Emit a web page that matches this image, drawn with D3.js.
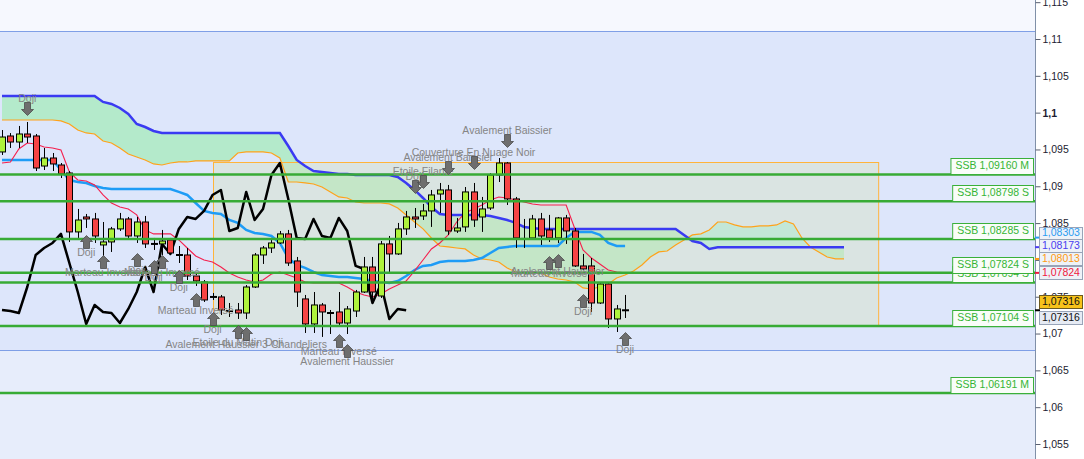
<!DOCTYPE html>
<html>
<head>
<meta charset="utf-8">
<script src="https://cdn.jsdelivr.net/npm/d3@7"></script>
<style>
  body { margin: 0; background: #fff; overflow: hidden; }
  text { font-family: "Liberation Sans", Arial, sans-serif; }
</style>
</head>
<body>
<script>
// bougies (prix EUR/USD)
const opens = [1.09466,1.09683,1.09601,1.09710,1.09683,1.09275,1.09384,1.09289,1.09180,1.08380,
  1.08583,1.08556,1.08203,1.08244,1.08421,1.08556,1.08325,1.08515,1.08217,1.08217,
  1.08271,1.08067,1.08067,1.07782,1.07700,1.07497,1.07497,1.07306,1.07320,1.07279,
  1.07632,1.08067,1.08162,1.08230,1.08353,1.07986,1.07470,1.07130,1.07388,1.07279,
  1.07293,1.07143,1.07306,1.07564,1.07904,1.07510,1.08217,1.08081,1.08421,1.08583,
  1.08597,1.08665,1.08895,1.08950,1.08393,1.08448,1.08923,1.08583,1.08705,1.09153,
  1.09316,1.08828,1.08285,1.08298,1.08556,1.08407,1.08298,1.08570,1.08393,1.07918,
  1.07918,1.07415,1.07673,1.07198,1.07316];
const highs = [1.09764,1.09723,1.09819,1.09873,1.09710,1.09520,1.09452,1.09316,1.09207,1.08692,
  1.08624,1.08638,1.08515,1.08448,1.08638,1.08583,1.08583,1.08597,1.08298,1.08407,
  1.08298,1.08189,1.08162,1.07822,1.07727,1.07551,1.07524,1.07415,1.07415,1.07659,
  1.08094,1.08189,1.08298,1.08393,1.08407,1.08040,1.07524,1.07564,1.07415,1.07320,
  1.07564,1.07374,1.07592,1.08040,1.08040,1.08257,1.08325,1.08502,1.08665,1.08705,
  1.08760,1.08950,1.09045,1.09018,1.08570,1.08990,1.09045,1.08855,1.09180,1.09384,
  1.09330,1.08855,1.08556,1.08611,1.08638,1.08611,1.08583,1.08611,1.08434,1.08081,
  1.08026,1.07687,1.07687,1.07388,1.07524];
const lows = [1.09425,1.09520,1.09520,1.09588,1.09207,1.09221,1.09207,1.09112,1.08244,1.08298,
  1.08434,1.08230,1.08040,1.08108,1.08393,1.08298,1.08230,1.08162,1.08135,1.08067,
  1.08067,1.07958,1.07727,1.07646,1.07429,1.07456,1.07252,1.07225,1.07198,1.07198,
  1.07619,1.07945,1.08094,1.08217,1.07918,1.07361,1.07008,1.07008,1.06954,1.06994,
  1.07116,1.06994,1.07225,1.07551,1.07415,1.07483,1.07836,1.08067,1.08339,1.08434,
  1.08542,1.08448,1.08638,1.08339,1.08366,1.08380,1.08448,1.08380,1.08678,1.09058,
  1.08746,1.08162,1.08162,1.08271,1.08203,1.08244,1.08230,1.08217,1.07904,1.07863,
  1.07293,1.07402,1.07075,1.07021,1.07211];
const closes = [1.09669,1.09601,1.09710,1.09669,1.09248,1.09384,1.09303,1.09167,1.08380,1.08542,
  1.08556,1.08325,1.08244,1.08421,1.08556,1.08325,1.08515,1.08217,1.08217,1.08257,
  1.08094,1.08067,1.07782,1.07714,1.07456,1.07497,1.07320,1.07306,1.07279,1.07632,
  1.08067,1.08162,1.08230,1.08353,1.07958,1.07564,1.07130,1.07388,1.07293,1.07279,
  1.07143,1.07334,1.07564,1.07904,1.07564,1.08217,1.08081,1.08421,1.08583,1.08556,
  1.08665,1.08882,1.08950,1.08393,1.08434,1.08923,1.08542,1.08692,1.09153,1.09316,
  1.08828,1.08298,1.08285,1.08556,1.08325,1.08298,1.08570,1.08393,1.07918,1.07877,
  1.07415,1.07673,1.07198,1.07334,1.07316];

// Ichimoku
const tenkan = [1.09316,1.09330,1.09507,1.09588,1.09574,1.09534,1.09520,1.09493,1.09194,1.09085,
  1.09072,1.09018,1.08882,1.08773,1.08719,1.08692,1.08611,1.08407,1.08353,1.08353,
  1.08353,1.08271,1.08162,1.08053,1.07999,1.07972,1.07904,1.07822,1.07768,1.07727,
  1.07700,1.07727,1.07809,1.07836,1.07795,1.07754,1.07700,1.07687,1.07687,1.07687,
  1.07687,1.07632,1.07564,1.07524,1.07497,1.07537,1.07605,1.07659,1.07714,1.07850,
  1.07999,1.08149,1.08230,1.08339,1.08515,1.08638,1.08692,1.08746,1.08814,1.08855,
  1.08841,1.08814,1.08787,1.08760,1.08746,1.08746,1.08746,1.08746,1.08434,1.08135,
  1.08026,1.07945,1.07863,1.07836,1.07824];
const kijun = [1.09357,1.09357,1.09357,1.09357,1.09357,1.09357,1.09357,1.09221,1.09085,1.09058,
  1.09045,1.09004,1.08977,1.08963,1.08963,1.08963,1.08963,1.08963,1.08963,1.08963,
  1.08963,1.08923,1.08882,1.08773,1.08665,1.08638,1.08624,1.08542,1.08502,1.08407,
  1.08366,1.08353,1.08325,1.08230,1.08026,1.07931,1.07891,1.07836,1.07795,1.07782,
  1.07768,1.07768,1.07754,1.07741,1.07714,1.07700,1.07687,1.07714,1.07782,1.07863,
  1.07918,1.07931,1.07972,1.07986,1.07986,1.07986,1.07999,1.08026,1.08094,1.08162,
  1.08176,1.08189,1.08189,1.08189,1.08189,1.08189,1.08189,1.08298,1.08380,1.08380,
  1.08380,1.08339,1.08230,1.08189,1.08189];
const ssa = [1.09900,1.09900,1.09900,1.09900,1.09900,1.09900,1.09900,1.09887,1.09846,1.09764,
  1.09724,1.09710,1.09615,1.09588,1.09520,1.09439,1.09398,1.09357,1.09303,1.09289,
  1.09316,1.09330,1.09330,1.09344,1.09344,1.09344,1.09344,1.09344,1.09452,1.09466,
  1.09466,1.09466,1.09452,1.09384,1.09058,1.09058,1.09045,1.09031,1.08990,1.08923,
  1.08855,1.08841,1.08787,1.08773,1.08773,1.08773,1.08760,1.08705,1.08611,1.08515,
  1.08421,1.08298,1.08189,1.08176,1.08162,1.08149,1.08067,1.08013,1.07999,1.07972,
  1.07891,1.07836,1.07822,1.07822,1.07822,1.07768,1.07741,1.07727,1.07700,1.07619,
  1.07605,1.07632,1.07673,1.07754,1.07795,1.07850,1.07931,1.08040,1.08108,1.08121,
  1.08203,1.08271,1.08339,1.08353,1.08407,1.08515,1.08515,1.08475,1.08448,1.08448,
  1.08461,1.08461,1.08475,1.08529,1.08488,1.08298,1.08176,1.08108,1.08040,1.08013,
  1.08013];
const ssb = [1.10226,1.10226,1.10226,1.10226,1.10226,1.10226,1.10226,1.10226,1.10226,1.10226,
  1.10226,1.10226,1.10145,1.10118,1.10063,1.09982,1.09846,1.09805,1.09751,1.09724,
  1.09724,1.09724,1.09724,1.09724,1.09724,1.09724,1.09724,1.09724,1.09724,1.09724,
  1.09724,1.09724,1.09724,1.09724,1.09547,1.09357,1.09275,1.09207,1.09194,1.09180,
  1.09167,1.09167,1.09153,1.09153,1.09153,1.09153,1.09153,1.09126,1.09045,1.08950,
  1.08841,1.08719,1.08624,1.08611,1.08611,1.08611,1.08611,1.08611,1.08597,1.08570,
  1.08542,1.08502,1.08448,1.08434,1.08421,1.08421,1.08421,1.08421,1.08421,1.08421,
  1.08421,1.08421,1.08421,1.08421,1.08421,1.08421,1.08421,1.08421,1.08421,1.08421,
  1.08421,1.08339,1.08257,1.08230,1.08149,1.08173,1.08173,1.08173,1.08173,1.08173,
  1.08173,1.08173,1.08173,1.08173,1.08173,1.08173,1.08173,1.08173,1.08173,1.08173,
  1.08173];
const chikouShift = 26;

// niveaux SSB des unités supérieures
const levels = [1.09160, 1.08798, 1.08285, 1.07824, 1.07694, 1.07104, 1.06191];
const levelUnits = ["M", "S", "S", "S", "S", "S", "M"];

// zone et rectangle
const band = [1.06777, 1.11109];
const rectIdx = [25, 104];
const rectPrice = [1.07116, 1.09330];

// figures chartistes
const patIdx = [3, 10, 12, 16, 18, 19, 21, 23, 25, 28, 29, 40, 41, 49, 50, 53, 56, 60, 65, 66, 69, 74];
const patDir = ["down","up","up","up","up","up","up","up","up","up","up","up","up",
  "down","down","down","down","down","up","up","up","up"];
const patPrice = [1.09968, 1.08339, 1.08067, 1.08094, 1.07999, 1.08067, 1.07863, 1.07551, 1.07293, 1.07116,
  1.07089, 1.06994, 1.06858, 1.08909, 1.08977, 1.09167, 1.09235, 1.09534, 1.08053, 1.08081, 1.07537, 1.07021];
const patText = ["Doji", "Doji", "Marteau Inversé", "Doji", "Doji", "Marteau Inversé", "Doji", "Marteau Inversé",
  "Doji", "Etoile du Matin Doji", "Avalement Haussier 3 Chandeliers", "Marteau Inversé", "Avalement Haussier",
  "Doji", "Etoile Filante", "Avalement Baissier", "Couverture En Nuage Noir", "Avalement Baissier",
  "Marteau Inversé", "Avalement Haussier", "Doji", "Doji"];

// axe des prix
const axisTicks = [1.055, 1.06, 1.065, 1.07, 1.075, 1.08, 1.085, 1.09, 1.095, 1.1, 1.105, 1.11, 1.115];
const tagValues = [1.08303, 1.08173, 1.08013, 1.07824, 1.07316, 1.07316];

const W = 1084, H = 459, plotR = 1035;
const fmtTick = (v) => (+v.toFixed(5)).toString().replace(".", ",");
const fmtPrice = (v) => v.toFixed(5).replace(".", ",");

const svg = d3.select("body").append("svg").attr("width", W).attr("height", H);
const defs = svg.append("defs");
defs.append("clipPath").attr("id", "plotClip").append("rect").attr("width", plotR).attr("height", H);

const x = d3.scaleLinear().domain([0, 100]).range([2, 844]);
const y = d3.scaleLinear().domain([1.055, 1.11]).range([444, 39]);

//fond
svg.append("rect").attr("width", plotR).attr("height", H).attr("fill", "#f6f8fe");
svg.append("rect").attr("y", y(band[0])).attr("width", plotR).attr("height", H - y(band[0])).attr("fill", "#e7edfb");
svg.append("rect").attr("y", y(band[1])).attr("width", plotR)
  .attr("height", y(band[0]) - y(band[1])).attr("fill", "#dde6fb");
svg.selectAll(".bandline").data(band).join("line")
  .attr("x1", 0).attr("x2", plotR)
  .attr("y1", (d) => Math.round(y(d)) + 0.5).attr("y2", (d) => Math.round(y(d)) + 0.5)
  .attr("stroke", "#7f9fe6");

const g = svg.append("g").attr("clip-path", "url(#plotClip)");

// nuage: vert quand SSB au-dessus, cyan quand SSA au-dessus
const aboveSSB = d3.area().x((d, i) => x(i)).y0(0).y1((d) => y(d));
const belowSSB = d3.area().x((d, i) => x(i)).y0(H).y1((d) => y(d));
defs.append("clipPath").attr("id", "cloudUp").append("path").attr("d", aboveSSB(ssb));
defs.append("clipPath").attr("id", "cloudDown").append("path").attr("d", belowSSB(ssb));
const cloud = d3.area().x((d, i) => x(i)).y0((d, i) => y(ssa[i])).y1((d) => y(d));
g.append("path").attr("d", cloud(ssb)).attr("fill", "#b4eacb").attr("clip-path", "url(#cloudDown)");
g.append("path").attr("d", cloud(ssb)).attr("fill", "#b2ebe8").attr("clip-path", "url(#cloudUp)");

// rectangle
g.append("rect")
  .attr("x", Math.round(x(rectIdx[0])) + 0.5)
  .attr("y", Math.round(y(rectPrice[1])) + 0.5)
  .attr("width", x(rectIdx[1]) - x(rectIdx[0]))
  .attr("height", y(rectPrice[0]) - y(rectPrice[1]))
  .attr("fill", "rgba(214,226,196,0.45)")
  .attr("stroke", "#ffb43a");

// lignes Ichimoku
const line = d3.line().x((d, i) => x(i)).y((d) => y(d));
g.append("path").attr("d", line(ssa)).attr("fill", "none").attr("stroke", "#ffa21a").attr("stroke-width", 1.2);
g.append("path").attr("d", line(ssb)).attr("fill", "none").attr("stroke", "#3a3af2").attr("stroke-width", 2.5);
g.append("path").attr("d", line(kijun)).attr("fill", "none").attr("stroke", "#1e9cf6").attr("stroke-width", 2.5);
g.append("path").attr("d", line(tenkan)).attr("fill", "none").attr("stroke", "#f5204e").attr("stroke-width", 1.1);
g.append("path").attr("d", line(closes.slice(chikouShift))).attr("fill", "none")
  .attr("stroke", "#000").attr("stroke-width", 2.5).attr("stroke-linejoin", "round");

// bougies
const candles = d3.range(closes.length).map((i) => ({ i, o: opens[i], h: highs[i], l: lows[i], c: closes[i] }));
const cg = g.selectAll(".candle").data(candles).join("g").attr("class", "candle");
cg.append("line")
  .attr("x1", (d) => Math.round(x(d.i)) + 0.5).attr("x2", (d) => Math.round(x(d.i)) + 0.5)
  .attr("y1", (d) => y(d.h)).attr("y2", (d) => y(d.l))
  .attr("stroke", "#000");
cg.filter((d) => Math.abs(d.o - d.c) >= 0.00003).append("rect")
  .attr("x", (d) => Math.round(x(d.i)) - 2.5)
  .attr("y", (d) => y(Math.max(d.o, d.c)))
  .attr("width", 6)
  .attr("height", (d) => Math.max(1, y(Math.min(d.o, d.c)) - y(Math.max(d.o, d.c))))
  .attr("fill", (d) => (d.c > d.o ? "#aef23c" : "#f64444"))
  .attr("stroke", "#000");
cg.filter((d) => Math.abs(d.o - d.c) < 0.00003).append("line")
  .attr("x1", (d) => Math.round(x(d.i)) - 3).attr("x2", (d) => Math.round(x(d.i)) + 4)
  .attr("y1", (d) => y(d.c)).attr("y2", (d) => y(d.c))
  .attr("stroke", "#000").attr("stroke-width", 2);

// niveaux SSB
g.selectAll(".level").data(levels).join("line")
  .attr("x1", 0).attr("x2", plotR)
  .attr("y1", (d) => y(d)).attr("y2", (d) => y(d))
  .attr("stroke", "#37ab35").attr("stroke-width", 2.5);

// figures: flèches grises + libellés
const arrowUp = "M0,0 L6,6 L3,6 L3,13 L-3,13 L-3,6 L-6,6 Z";
const arrowDown = "M0,0 L6,-6 L3,-6 L3,-13 L-3,-13 L-3,-6 L-6,-6 Z";
const pats = patIdx.map((i, k) => ({ i, dir: patDir[k], p: patPrice[k], t: patText[k] }));
g.selectAll(".patlabel").data(pats).join("text")
  .attr("class", "patlabel")
  .attr("x", (d) => x(d.i))
  .attr("y", (d) => (d.dir === "up" ? y(d.p) + 18.5 : y(d.p) - 16))
  .attr("text-anchor", "middle").attr("dominant-baseline", "middle")
  .attr("fill", "#858585").style("font-size", "10.5px")
  .text((d) => d.t);
g.selectAll(".patarrow").data(pats).join("path")
  .attr("class", "patarrow")
  .attr("transform", (d) => `translate(${Math.round(x(d.i)) + 0.5},${Math.round(y(d.p)) + 0.5})`)
  .attr("d", (d) => (d.dir === "up" ? arrowUp : arrowDown))
  .attr("fill", "#6e6e6e").attr("stroke", "#4d4d4d").attr("stroke-width", 0.8);

// étiquettes des niveaux, de bas en haut
const lvl = levels.map((v, k) => ({ v, u: levelUnits[k] })).sort((a, b) => a.v - b.v);
lvl.forEach((d) => {
  const lg = svg.append("g");
  const box = lg.append("rect");
  const t = lg.append("text")
    .attr("x", 1029).attr("y", y(d.v) - 8)
    .attr("text-anchor", "end").attr("dominant-baseline", "middle")
    .attr("fill", "#35b535").style("font-size", "10.5px")
    .text(`SSB ${fmtPrice(d.v)} ${d.u}`);
  const len = t.node().getComputedTextLength();
  box.attr("x", 1029 - len - 4.5).attr("y", Math.round(y(d.v) - 16) + 0.5)
    .attr("width", len + 9).attr("height", 16)
    .attr("fill", "#f9fdf9").attr("stroke", "#3ab03a");
});

// axe de droite
svg.append("rect").attr("x", plotR).attr("width", W - plotR).attr("height", H).attr("fill", "#fff");
const axis = svg.append("g").attr("transform", `translate(${plotR + 0.5},0)`)
  .call(d3.axisRight(y).tickValues(axisTicks).tickSize(5).tickPadding(2).tickFormat(fmtTick));
axis.select(".domain").attr("stroke", "#8090a8").attr("d", `M0,0V${H}`);
axis.selectAll(".tick line").attr("stroke", "#5a6070");
axis.selectAll(".tick text")
  .attr("fill", "#1c1c30").style("font-size", "10.5px")
  .style("font-family", "'Liberation Sans', Arial, sans-serif")
  .style("font-weight", (d) => (d === 1.1 ? "bold" : "normal"));

// étiquettes de prix sur l'axe
const tagColors = ["#2b9cf2", "#4a3cf0", "#ff9a10", "#f01840", "#111", "#111"];
const tagFills = ["#eef2f8", "#eef2f8", "#eef2f8", "#eef2f8", "#f7c21a", "#e6ebf4"];
const tagNudge = [-4.5, -1.5, 0, 0, -8.5, 7];
const tagMarks = ["#2b9cf2", "#4a3cf0", "#ff9a10", "#f01840", "#000", null];
tagValues.forEach((v, k) => {
  const cy = y(v) + tagNudge[k];
  if (tagMarks[k]) {
    svg.append("line").attr("x1", plotR).attr("x2", plotR + 5)
      .attr("y1", y(v)).attr("y2", y(v)).attr("stroke", tagMarks[k]).attr("stroke-width", 2);
  }
  svg.append("rect").attr("x", 1039.5).attr("y", Math.round(cy - 6.5) + 0.5)
    .attr("width", 43).attr("height", 13)
    .attr("fill", tagFills[k]).attr("stroke", k === 4 ? "#6b5a20" : "#98a4b8");
  svg.append("text").attr("x", 1042).attr("y", cy + 0.5)
    .attr("dominant-baseline", "middle").attr("fill", tagColors[k])
    .style("font-size", "10.5px").text(fmtPrice(v));
});
</script>
</body>
</html>
